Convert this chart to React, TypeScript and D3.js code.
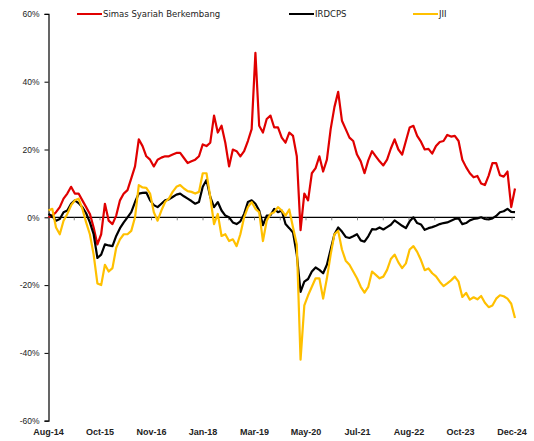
import { useEffect, useRef } from "react";
import * as d3 from "d3";

const WIDTH = 534;
const HEIGHT = 441;

const seriesNames = ["Simas Syariah Berkembang", "IRDCPS", "JII"];
const seriesColors = ["#e00000", "#000000", "#ffc000"];

const xLabels = [
  "Aug-14", "Oct-15", "Nov-16", "Jan-18", "Mar-19",
  "May-20", "Jul-21", "Aug-22", "Oct-23", "Dec-24",
];
const yTicks = [-60, -40, -20, 0, 20, 40, 60];

// cumulative return (%), one point per month, Aug-14 .. Dec-24
const simas = [
  0, 0.5, 1.5, 3, 5.5, 7, 9, 7, 7, 5,
  3, 1, -3, -8, -5, 4, -1, -2, 0.5, 5,
  7, 8, 11.5, 15, 23, 21, 18, 17, 15, 17,
  17.6, 18, 18, 18.5, 19, 19, 17.5, 16, 16.5, 17,
  18, 21.5, 21, 22, 30, 25, 27, 22, 15, 20,
  19.5, 18, 19.5, 22.5, 26, 48.5, 27, 25, 29, 30,
  26.5, 26.5, 23.5, 22, 25, 24, 18, -3.8, 7, 5,
  13, 14.5, 18, 13.5, 17, 26, 32.5, 37, 28.5, 26,
  23.5, 22.5, 18.5, 16.5, 13, 16.8, 19.5, 18, 16.5, 15.3,
  17, 20.3, 23, 20, 18.5, 22.5, 26.5, 27, 24, 22.3,
  20, 20.2, 18.8, 21, 22.2, 22.5, 24.3, 23.8, 24, 22.5,
  17, 14.8, 13, 11.8, 12.2, 10, 9.5, 12.3, 16, 16,
  12.4, 12, 13.5, 3, 8.5,
];

const irdcps = [
  1, 0.3, -1, -0.5, 1.5, 2, 4, 5, 4.2, 3,
  1.2, -1.5, -5, -12, -11, -8, -8.3, -8.5, -5.5, -3.2,
  -1.5, 0, 1.5, 4.5, 7, 7.2, 7.3, 5, 3.6, 3,
  4, 5, 5.3, 6, 6.7, 7, 6.2, 5.5, 4.8, 4,
  4.5, 9, 11, 6, 3, 4.5, 2, 0.5, 0, -1.5,
  -2, -1.2, 1, 4.5, 5, 4, 2, -2.3, 0.5, 0.6,
  2.5, 1.5, 2, -2, -3.2, -4.5, -11, -22, -19, -18.2,
  -16, -14.8, -15.5, -16.5, -14, -9.5, -5, -3, -4.2, -5.8,
  -6.1, -5.6, -5, -6.8, -7.2, -5.6, -3.5, -3.6, -3, -3.6,
  -2.9, -2.2, -0.9, -1.7, -2.5, -3.2, -1.2, 0, -1.7, -2.1,
  -3.7, -3.2, -2.9, -2.5, -2, -1.7, -1.5, -1, -0.5, -0.3,
  -2, -1.7, -0.9, -0.5, -0.3, 0, -0.5, -0.6, -0.3, 0.4,
  1.5, 1.8, 2.5, 1.6, 1.5,
];

const jii = [
  2, 2.5, -3, -5, -1, 1, 3.5, 5, 5.5, 2.5,
  -1.5, -5, -11, -19.5, -20, -14, -16, -15, -9, -6.5,
  -5, -5, -4, 0, 9.5, 8.8, 8.7, 7, 1.5, -1,
  2, 4.5, 5.5, 7.5, 9, 9.5, 8.5, 7.7, 7.5, 7,
  7.5, 13, 13, 6, -2, 1, -5.5, -5, -7, -6.5,
  -8.5, -5, 0, 3, 4.5, 2.5, 1.5, -7, -1, 1,
  1.5, 3, 2, 0.5, 2.3, -3, -8, -42, -26, -23,
  -20.5, -18, -18, -24, -18, -11, -5, -4, -9.5, -12.8,
  -14, -16, -18, -20.5, -22.2, -20.5, -16, -17, -18, -17.5,
  -15.5, -12.3, -11, -13.3, -15, -13.6, -9.5, -8.5, -10.2, -12.6,
  -15.6, -15.1, -16.5, -17.4, -19, -20.3, -19.5, -18.6, -17.5, -19,
  -23.5, -22.3, -24.3, -23.6, -24.2, -23.2, -25.2, -26.5, -26, -24,
  -23, -23.3, -24, -25.5, -29.7,
];

const allSeries = [simas, irdcps, jii];

export default function App() {
  const svgRef = useRef<SVGSVGElement>(null);

  useEffect(() => {
    if (!svgRef.current) return;
    const svg = d3.select(svgRef.current);
    svg.selectAll("*").remove();

    const plotLeft = 48.5;
    const plotRight = 515;
    const plotTop = 13.9;
    const plotBottom = 420.7;

    const xScale = d3
      .scaleLinear()
      .domain([0, simas.length - 1])
      .range([plotLeft, plotRight]);

    const yScale = d3
      .scaleLinear()
      .domain([-60, 60])
      .range([plotBottom, plotTop]);

    const labelScale = d3
      .scalePoint<string>()
      .domain(xLabels)
      .range([plotLeft, 512]);

    // Y axis
    svg
      .append("g")
      .attr("transform", `translate(${plotLeft},0)`)
      .call(
        d3
          .axisLeft(yScale)
          .tickValues(yTicks)
          .tickSize(4)
          .tickPadding(5)
          .tickFormat((d) => `${d}%`)
      )
      .call((axis) => {
        axis.select(".domain").attr("stroke", "#000").attr("stroke-width", 1.2);
        axis.selectAll("line").attr("stroke", "#000");
        axis
          .selectAll("text")
          .attr("fill", "#222")
          .attr("font-size", "8.5px")
          .attr("font-family", "'Liberation Sans', Arial, sans-serif");
      });

    // zero line with small ticks (labels and midpoints)
    const y0 = yScale(0);
    svg
      .append("line")
      .attr("x1", plotLeft)
      .attr("x2", plotRight)
      .attr("y1", y0)
      .attr("y2", y0)
      .attr("stroke", "#000")
      .attr("stroke-width", 1.2);

    const step = labelScale.step();
    const tickXs: number[] = [];
    xLabels.forEach((l, i) => {
      const x = labelScale(l) ?? 0;
      tickXs.push(x);
      if (i < xLabels.length - 1) tickXs.push(x + step / 2);
    });
    svg
      .append("g")
      .selectAll("line")
      .data(tickXs)
      .join("line")
      .attr("x1", (d) => d)
      .attr("x2", (d) => d)
      .attr("y1", y0)
      .attr("y2", y0 + 3)
      .attr("stroke", "#666")
      .attr("stroke-width", 0.8);

    // X labels
    svg
      .append("g")
      .selectAll("text")
      .data(xLabels)
      .join("text")
      .attr("x", (d) => labelScale(d) ?? 0)
      .attr("y", 435)
      .attr("text-anchor", "middle")
      .attr("font-size", "9px")
      .attr("font-weight", "bold")
      .attr("font-family", "'Liberation Sans', Arial, sans-serif")
      .attr("fill", "#222")
      .text((d) => d);

    // Lines
    const line = d3
      .line<number>()
      .x((_, i) => xScale(i))
      .y((d) => yScale(d));

    allSeries.forEach((values, k) => {
      svg
        .append("path")
        .datum(values)
        .attr("fill", "none")
        .attr("stroke", seriesColors[k])
        .attr("stroke-width", 2.2)
        .attr("stroke-linejoin", "round")
        .attr("d", line);
    });

    // Legend
    const legendX = [77, 289, 413];
    const legend = svg.append("g");
    seriesNames.forEach((name, k) => {
      legend
        .append("line")
        .attr("x1", legendX[k])
        .attr("x2", legendX[k] + 25)
        .attr("y1", 14)
        .attr("y2", 14)
        .attr("stroke", seriesColors[k])
        .attr("stroke-width", 2);
      legend
        .append("text")
        .attr("x", legendX[k] + 26)
        .attr("y", 17)
        .attr("font-size", "8.5px")
        .attr("font-family", "'DejaVu Sans', sans-serif")
        .attr("fill", "#222")
        .text(name);
    });
  }, []);

  return (
    <div style={{ position: "absolute", left: 0, top: 0, background: "#fff" }}>
      <svg ref={svgRef} width={WIDTH} height={HEIGHT} style={{ display: "block" }} />
    </div>
  );
}
